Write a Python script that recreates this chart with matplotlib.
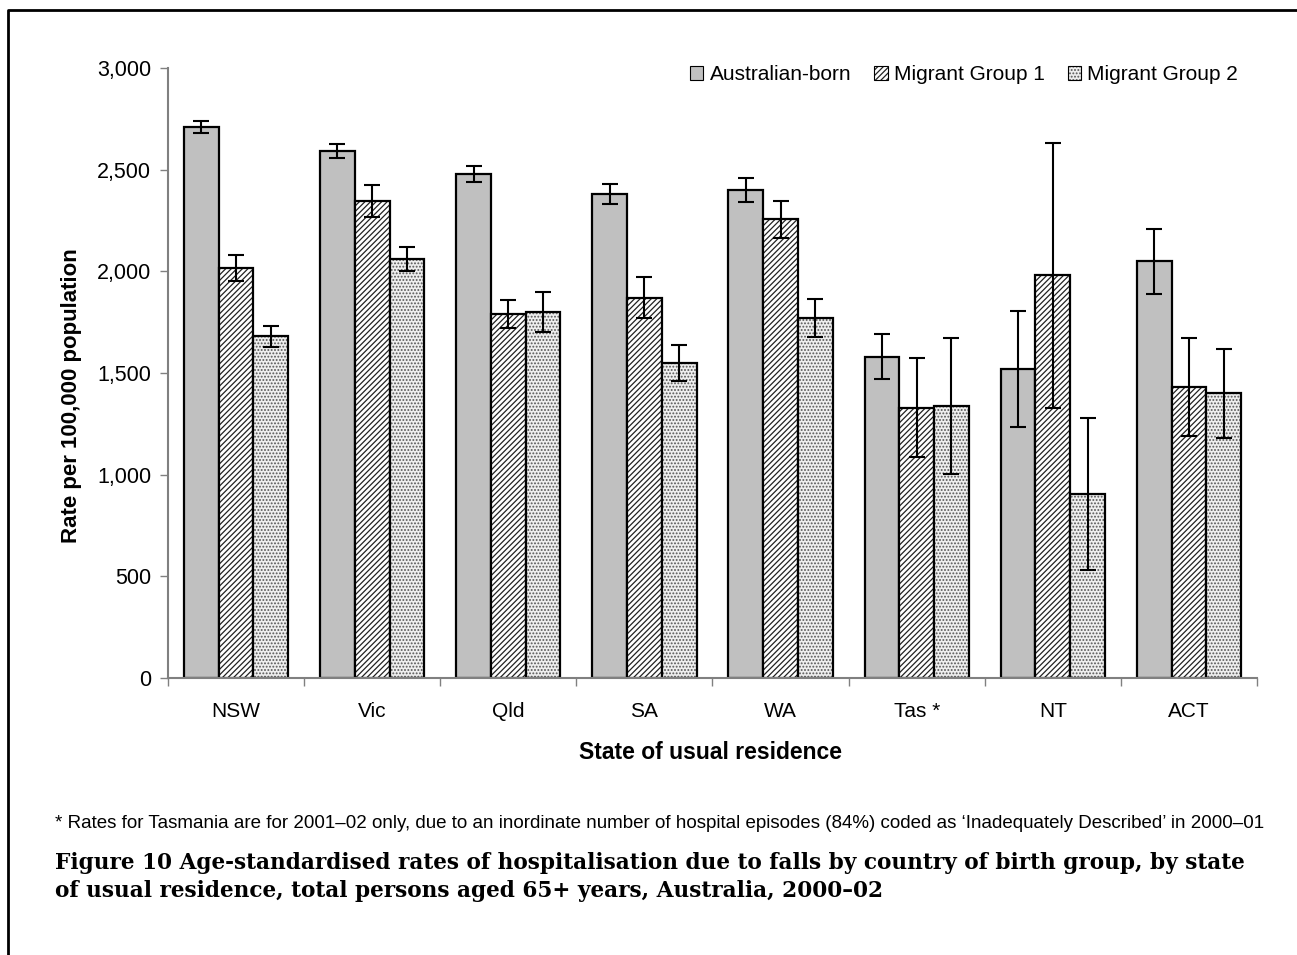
import matplotlib
matplotlib.use("Agg")
import matplotlib.pyplot as plt
import numpy as np
from matplotlib.lines import Line2D

plt.rcParams['font.family'] = ['Liberation Sans', 'DejaVu Sans']
plt.rcParams['hatch.linewidth'] = 0.9

states = ["NSW", "Vic", "Qld", "SA", "WA", "Tas *", "NT", "ACT"]
series_names = ["Australian-born", "Migrant Group 1", "Migrant Group 2"]

australian_born = [2710, 2590, 2480, 2380, 2400, 1580, 1520, 2050]
australian_born_err = [30, 35, 40, 50, 60, 110, 285, 160]
migrant_group1 = [2015, 2345, 1790, 1870, 2255, 1330, 1980, 1430]
migrant_group1_err = [65, 80, 70, 100, 90, 245, 650, 240]
migrant_group2 = [1680, 2060, 1800, 1550, 1770, 1338, 905, 1400]
migrant_group2_err = [50, 60, 100, 90, 95, 335, 375, 220]

yticks = [0, 500, 1000, 1500, 2000, 2500, 3000]

footnote = ("* Rates for Tasmania are for 2001\u201302 only, due to an inordinate number of hospital "
            "episodes (84%) coded as \u2018Inadequately Described\u2019 in 2000\u201301")
caption = ("Figure 10 Age-standardised rates of hospitalisation due to falls by country of birth group, by state\n"
           "of usual residence, total persons aged 65+ years, Australia, 2000\u201302")

fig = plt.figure(figsize=(12.97, 9.55), dpi=100)
ax = fig.add_axes([168 / 1297, 1 - 678 / 955, (1257 - 168) / 1297, (678 - 68) / 955])

x = np.arange(len(states))
w = 0.255
values = [australian_born, migrant_group1, migrant_group2]
errors = [australian_born_err, migrant_group1_err, migrant_group2_err]
styles = [
    dict(facecolor="#c0c0c0", hatch=None),
    dict(facecolor="white", hatch="//////"),
    dict(facecolor="#eeeeee", hatch="....."),
]
hatch_colors = ["black", "#222222", "#555555"]

for i, (vals, errs, st, name) in enumerate(zip(values, errors, styles, series_names)):
    pos = x + (i - 1) * w
    bars = ax.bar(pos, vals, width=w, facecolor=st["facecolor"], hatch=st["hatch"],
                  edgecolor="black", linewidth=1.6, label=name, zorder=2)
    for b in bars:
        b._hatch_color = matplotlib.colors.to_rgba(hatch_colors[i])
    ax.errorbar(pos, vals, yerr=errs, fmt="none", ecolor="black", elinewidth=1.5,
                capsize=6, capthick=1.5, zorder=3)

ax.set_xlim(-0.5, len(states) - 0.5)
ax.set_ylim(0, 3000)
ax.set_yticks(yticks)
ax.set_yticklabels([f"{v:,}" for v in yticks], fontsize=15.5)
ax.set_xticks(x)
ax.set_xticklabels(states, fontsize=15)
ax.set_xticks(np.arange(len(states) + 1) - 0.5, minor=True)
ax.tick_params(axis="x", which="major", length=0, pad=17)
ax.tick_params(axis="x", which="minor", length=6, width=1, color="#808080", direction="out")
ax.tick_params(axis="y", length=6, width=1, color="#808080", direction="out", pad=6)

for side in ["top", "right"]:
    ax.spines[side].set_visible(False)
for side in ["left", "bottom"]:
    ax.spines[side].set_color("#808080")
    ax.spines[side].set_linewidth(1.5)

ax.set_ylabel("Rate per 100,000 population", fontsize=16, fontweight="bold")
ax.yaxis.set_label_coords((72 - 168) / 1089, (678 - 396) / 610)
ax.set_xlabel("State of usual residence", fontsize=16.5, fontweight="bold")
ax.xaxis.set_label_coords((711 - 168) / 1089, -(752 - 678) / 610)
ax.xaxis.label.set_va("center")
ax.yaxis.label.set_va("center")

leg = ax.legend(loc="upper right", bbox_to_anchor=(1.0, 1.035), ncol=3, frameon=False,
                fontsize=15, handlelength=0.65, handleheight=0.65, handletextpad=0.3,
                columnspacing=1.1)
for h in leg.legend_handles:
    h.set_linewidth(0.8)

fig.text(55 / 1297, 1 - 823 / 955, footnote, fontsize=13.5,
         family=["Liberation Sans Narrow", "Liberation Sans"], va="center", ha="left")
fig.text(55 / 1297, 1 - 877 / 955, caption, fontsize=15.6, family=["DejaVu Serif"],
         fontweight="bold", va="center", ha="left", linespacing=1.3)

# figure frame: left and top rules
fig.add_artist(Line2D([8 / 1297, 8 / 1297, 1.0], [0.0, 1 - 10 / 955, 1 - 10 / 955],
                      transform=fig.transFigure, color="black", linewidth=2))

fig.savefig("out.png", dpi=100)
